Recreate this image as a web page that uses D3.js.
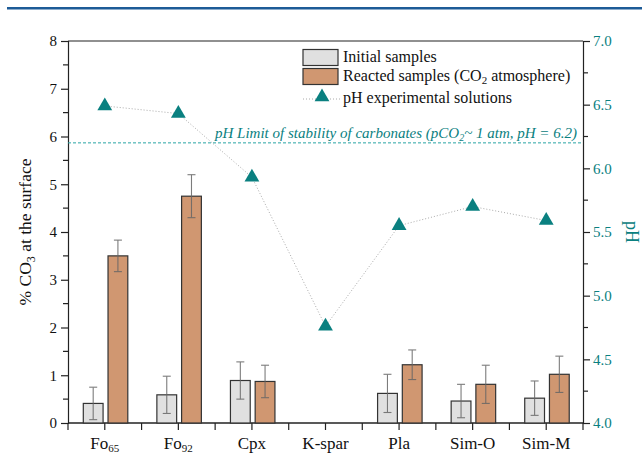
<!DOCTYPE html>
<html>
<head>
<meta charset="utf-8">
<script src="https://cdn.jsdelivr.net/npm/d3@7"></script>
<style>
  html, body { margin: 0; padding: 0; background: #fff; }
  svg { display: block; }
  svg text { font-family: "Liberation Serif", "Times New Roman", serif !important; }
</style>
</head>
<body>
<svg id="chart" width="642" height="454"></svg>
<script>
// ---- data ----
const categories = ["Fo65", "Fo92", "Cpx", "K-spar", "Pla", "Sim-O", "Sim-M"];
const labelMain  = ["Fo", "Fo", "Cpx", "K-spar", "Pla", "Sim-O", "Sim-M"];
const labelSub   = ["65", "92", "", "", "", "", ""];
const seriesNames = ["Initial samples", "Reacted samples (CO2 atmosphere)", "pH experimental solutions"];
const initial  = [0.41, 0.59, 0.89, null, 0.62, 0.46, 0.52];
const initErr  = [0.34, 0.39, 0.39, null, 0.40, 0.35, 0.36];
const reacted  = [3.50, 4.75, 0.87, null, 1.22, 0.81, 1.02];
const reactErr = [0.33, 0.45, 0.34, null, 0.31, 0.40, 0.38];
const pH       = [6.49, 6.43, 5.93, 4.76, 5.55, 5.70, 5.59];
const pHLimit  = 6.2;
const leftTicks  = [0, 1, 2, 3, 4, 5, 6, 7, 8];
const rightTicks = [4.0, 4.5, 5.0, 5.5, 6.0, 6.5, 7.0];

// ---- layout ----
const svg = d3.select("#chart");
const L = 68, R = 583, T = 41, B = 423;
const teal = "#0a8080";
const serif = "Liberation Serif, Times New Roman, serif";

// top banner line
svg.append("rect").attr("x", 7).attr("y", 7).attr("width", 635).attr("height", 2.5).attr("fill", "#1d5b97");

const x = d3.scaleBand().domain(categories).range([L, R]).padding(0);
const xs = d3.scaleBand().domain(["init", "react"]).range([15.3, 59.8]).paddingInner(0.2).paddingOuter(0);
const y = d3.scaleLinear().domain([0, 8]).range([B, T]);
const yp = d3.scaleLinear().domain([4, 7]).range([B, T]);

// frame top line
svg.append("line").attr("x1", L).attr("x2", R).attr("y1", T).attr("y2", T).attr("stroke", "#222").attr("stroke-width", 1.2);

// left axis
const leftAxis = d3.axisLeft(y).tickValues(leftTicks).tickFormat(d3.format("d")).tickSize(7).tickPadding(4);
const gl = svg.append("g").attr("transform", `translate(${L},0)`).call(leftAxis).attr("font-family", serif);
gl.selectAll(".tick line").attr("stroke", "#222").attr("stroke-width", 1.2);
gl.select(".domain").attr("stroke", "#222").attr("stroke-width", 1.2);
gl.selectAll("text").attr("font-size", 15).attr("fill", "#111");
// left minor ticks
svg.append("g").selectAll("line").data(d3.range(0.5, 8, 1)).join("line")
  .attr("x1", L - 5).attr("x2", L).attr("y1", d => y(d)).attr("y2", d => y(d))
  .attr("stroke", "#222").attr("stroke-width", 1.2);

// right axis
const rightAxis = d3.axisRight(yp).tickValues(rightTicks).tickFormat(d3.format(".1f")).tickSize(7).tickPadding(3);
const gr = svg.append("g").attr("transform", `translate(${R},0)`).call(rightAxis).attr("font-family", serif);
gr.selectAll(".tick line").attr("stroke", "#222").attr("stroke-width", 1.2);
gr.select(".domain").attr("stroke", "#222").attr("stroke-width", 1.2);
gr.selectAll("text").attr("font-size", 15).attr("fill", teal);
svg.append("g").selectAll("line").data(d3.range(4.25, 7, 0.5)).join("line")
  .attr("x1", R).attr("x2", R + 5).attr("y1", d => yp(d)).attr("y2", d => yp(d))
  .attr("stroke", "#222").attr("stroke-width", 1.2);

// bottom axis
svg.append("line").attr("x1", L).attr("x2", R).attr("y1", B).attr("y2", B).attr("stroke", "#222").attr("stroke-width", 1.4);
const xTickPos = [];
categories.forEach(c => { xTickPos.push(x(c)); xTickPos.push(x(c) + x.bandwidth() / 2); });
xTickPos.push(R);
svg.append("g").selectAll("line").data(xTickPos).join("line")
  .attr("x1", d => d).attr("x2", d => d).attr("y1", B).attr("y2", B + 7)
  .attr("stroke", "#222").attr("stroke-width", 1.2);
const xl = svg.append("g").selectAll("text").data(categories).join("text")
  .attr("x", d => x(d) + x.bandwidth() / 2).attr("y", 449)
  .attr("text-anchor", "middle").attr("font-size", 17).attr("fill", "#111");
xl.each(function(d, i) {
  const t = d3.select(this);
  t.append("tspan").text(labelMain[i]);
  if (labelSub[i]) t.append("tspan").attr("font-size", 11).attr("dy", 3).text(labelSub[i]);
});

// axis titles
const yt = svg.append("text").attr("transform", `translate(31,${(T + B) / 2}) rotate(-90)`)
  .attr("text-anchor", "middle").attr("font-size", 17.5).attr("fill", "#111");
yt.append("tspan").text("% CO");
yt.append("tspan").attr("font-size", 12).attr("dy", 4).text("3");
yt.append("tspan").attr("dy", -4).text(" at the surface");
svg.append("text").attr("transform", `translate(626,${(T + B) / 2}) rotate(90)`)
  .attr("text-anchor", "middle").attr("font-size", 18).attr("fill", teal).text("pH");

// pH limit dashed line
svg.append("line").attr("x1", L).attr("x2", R).attr("y1", yp(pHLimit)).attr("y2", yp(pHLimit))
  .attr("stroke", "#2aa5a5").attr("stroke-width", 1).attr("stroke-dasharray", "3,2");
const lt = svg.append("text").attr("x", 577).attr("y", yp(pHLimit) - 5)
  .attr("text-anchor", "end").attr("font-size", 15).attr("font-style", "italic").attr("fill", teal);
lt.append("tspan").text("pH Limit of stability of carbonates (pCO");
lt.append("tspan").attr("font-size", 10).attr("dy", 3).text("2");
lt.append("tspan").attr("dy", -3).text("~ 1 atm, pH = " + pHLimit.toFixed(1) + ")");

// bars
const barData = [];
categories.forEach((c, i) => {
  if (initial[i] != null) barData.push({ c, key: "init", v: initial[i], e: initErr[i] });
  if (reacted[i] != null) barData.push({ c, key: "react", v: reacted[i], e: reactErr[i] });
});
const fills = { init: "#e0e0e0", react: "#d09771" };
svg.append("g").selectAll("rect").data(barData).join("rect")
  .attr("x", d => x(d.c) + xs(d.key)).attr("width", xs.bandwidth())
  .attr("y", d => y(d.v)).attr("height", d => B - y(d.v))
  .attr("fill", d => fills[d.key]).attr("stroke", "#333").attr("stroke-width", 1.2);

// error bars
const eg = svg.append("g").attr("stroke", "#666").attr("stroke-width", 1.1).attr("opacity", 0.85);
barData.forEach(d => {
  const cx = x(d.c) + xs(d.key) + xs.bandwidth() / 2;
  eg.append("line").attr("x1", cx).attr("x2", cx).attr("y1", y(d.v + d.e)).attr("y2", y(d.v - d.e));
  [d.v + d.e, d.v - d.e].forEach(v => {
    eg.append("line").attr("x1", cx - 4).attr("x2", cx + 4).attr("y1", y(v)).attr("y2", y(v));
  });
});

// pH line & markers
const pts = categories.map((c, i) => [x(c) + x.bandwidth() / 2, yp(pH[i])]);
svg.append("path").attr("d", d3.line()(pts)).attr("fill", "none")
  .attr("stroke", "#aaa").attr("stroke-width", 1).attr("stroke-dasharray", "1,2");
const tri = d3.symbol().type(d3.symbolTriangle).size(95);
svg.append("g").selectAll("path").data(pts).join("path")
  .attr("d", tri).attr("transform", d => `translate(${d[0]},${d[1]})`).attr("fill", teal);

// legend
const lg = svg.append("g");
lg.append("rect").attr("x", 303).attr("y", 49.5).attr("width", 35).attr("height", 16)
  .attr("fill", fills.init).attr("stroke", "#333").attr("stroke-width", 1.2);
lg.append("rect").attr("x", 303).attr("y", 68.5).attr("width", 35).attr("height", 16)
  .attr("fill", fills.react).attr("stroke", "#333").attr("stroke-width", 1.2);
lg.append("line").attr("x1", 303).attr("x2", 340).attr("y1", 99).attr("y2", 99)
  .attr("stroke", "#aaa").attr("stroke-width", 1).attr("stroke-dasharray", "1,2");
lg.append("path").attr("d", tri).attr("transform", "translate(322,97)").attr("fill", teal);
lg.append("text").attr("x", 343).attr("y", 62).attr("font-size", 16).attr("fill", "#111").text(seriesNames[0]);
const t2 = lg.append("text").attr("x", 343).attr("y", 81).attr("font-size", 16).attr("fill", "#111");
t2.append("tspan").text("Reacted samples (CO");
t2.append("tspan").attr("font-size", 11).attr("dy", 3).text("2");
t2.append("tspan").attr("dy", -3).text(" atmosphere)");
lg.append("text").attr("x", 343).attr("y", 103).attr("font-size", 16).attr("fill", "#111").text(seriesNames[2]);
</script>
</body>
</html>
